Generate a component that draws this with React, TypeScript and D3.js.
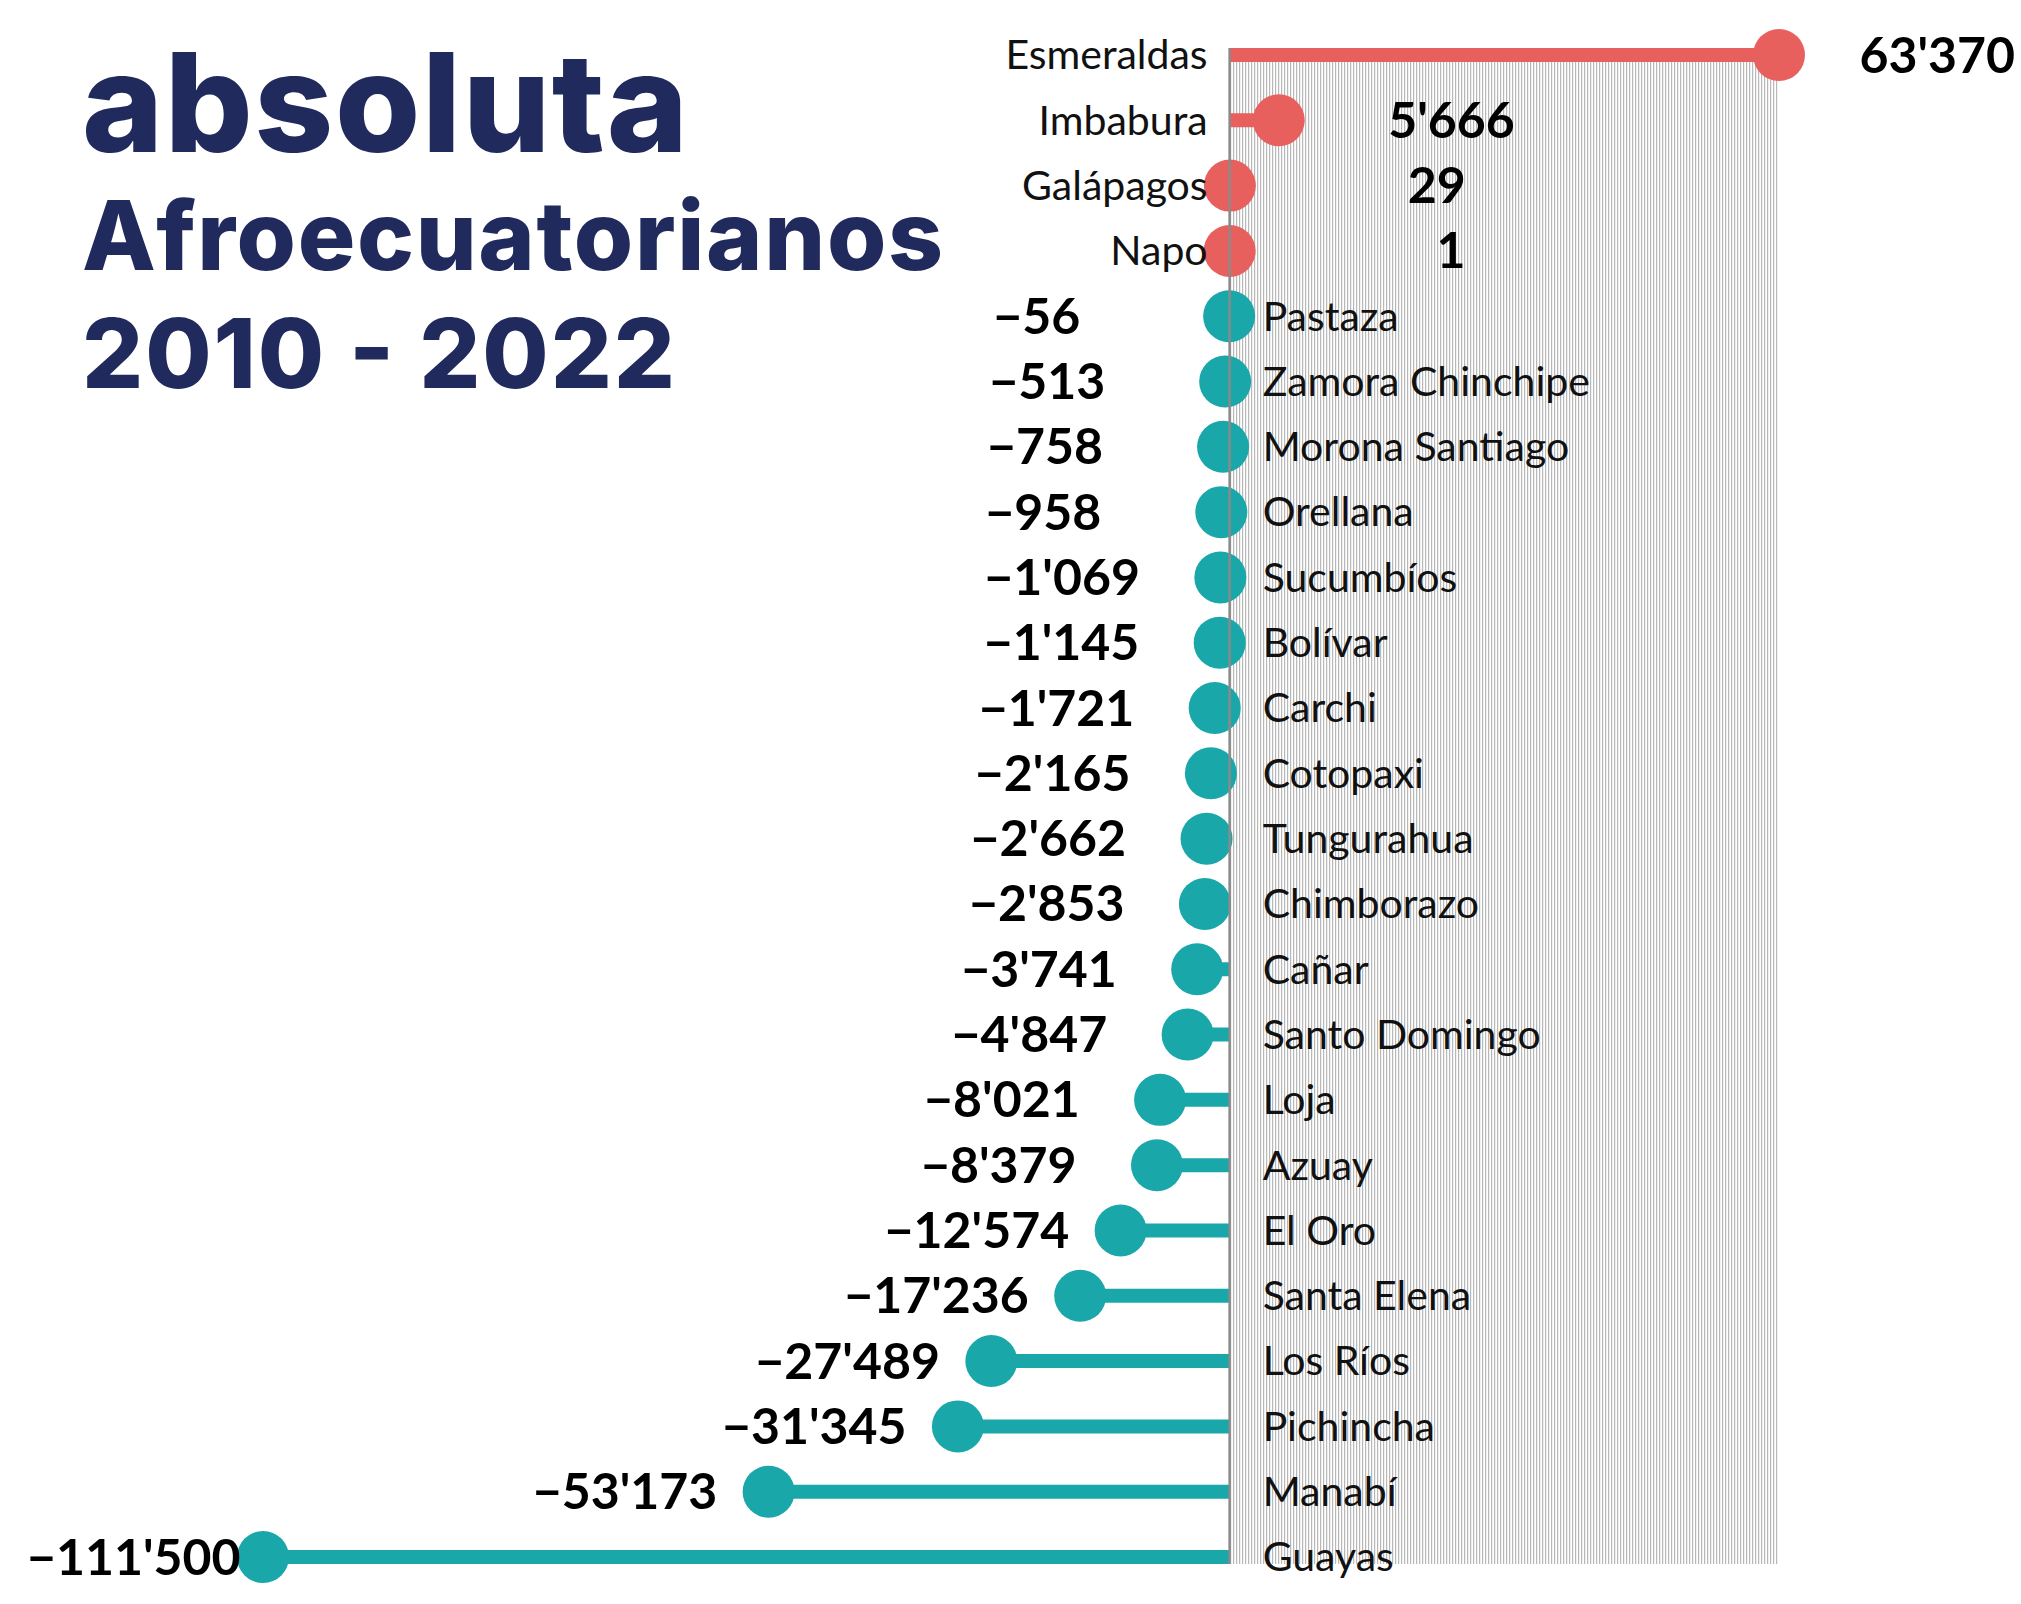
// @ts-nocheck
import React, { useRef, useEffect } from "react";
import * as d3 from "d3";

const PROVINCES = [
  "Esmeraldas", "Imbabura", "Galápagos", "Napo", "Pastaza", "Zamora Chinchipe",
  "Morona Santiago", "Orellana", "Sucumbíos", "Bolívar", "Carchi", "Cotopaxi",
  "Tungurahua", "Chimborazo", "Cañar", "Santo Domingo", "Loja", "Azuay",
  "El Oro", "Santa Elena", "Los Ríos", "Pichincha", "Manabí", "Guayas",
];

const CHANGE = [
  63370, 5666, 29, 1, -56, -513,
  -758, -958, -1069, -1145, -1721, -2165,
  -2662, -2853, -3741, -4847, -8021, -8379,
  -12574, -17236, -27489, -31345, -53173, -111500,
];

const TITLE_LINES = ["absoluta", "Afroecuatorianos", "2010 - 2022"];

const RED = "#e8605e";
const TEAL = "#19a7aa";
const NAVY = "#212a5c";

const LOLLIPOPS = PROVINCES.map((name, i) => ({ name, value: CHANGE[i] }));

const Lollipop = ({ width = 2021, height = 1604 }) => {
  const svgRef = useRef(null);

  useEffect(() => {
    document.body.style.margin = "0";
    const svg = d3.select(svgRef.current);
    svg.selectAll("*").remove();

    svg
      .attr("width", width)
      .attr("height", height)
      .attr("viewBox", [0, 0, width, height])
      .style("display", "block")
      .style("background", "#fff");

    const x = d3
      .scaleLinear()
      .domain([d3.min(CHANGE), d3.max(CHANGE)])
      .range([263, 1779]);

    const y = d3.scalePoint().domain(PROVINCES).range([55, 1557]);

    const fmt = (v) => d3.format(",")(v).replace(/,/g, "'");

    // hatch pattern for the positive side
    const defs = svg.append("defs");
    const pat = defs
      .append("pattern")
      .attr("id", "hatch")
      .attr("patternUnits", "userSpaceOnUse")
      .attr("width", 3)
      .attr("height", 10);
    pat.append("rect").attr("width", 3).attr("height", 10).attr("fill", "#fff");
    pat.append("rect").attr("width", 1.2).attr("height", 10).attr("fill", "#b8b8b8");

    const top = y(PROVINCES[0]) - 7;
    const bottom = y(PROVINCES[PROVINCES.length - 1]) + 7;

    svg
      .append("rect")
      .attr("x", x(0))
      .attr("y", top)
      .attr("width", x(d3.max(CHANGE)) - x(0))
      .attr("height", bottom - top)
      .attr("fill", "url(#hatch)");

    const color = (v) => (v >= 0 ? RED : TEAL);

    // stems
    svg
      .append("g")
      .selectAll("line")
      .data(LOLLIPOPS)
      .join("line")
      .attr("x1", x(0))
      .attr("x2", (d) => x(d.value))
      .attr("y1", (d) => y(d.name))
      .attr("y2", (d) => y(d.name))
      .attr("stroke", (d) => color(d.value))
      .attr("stroke-width", 14);

    // dots
    svg
      .append("g")
      .selectAll("circle")
      .data(LOLLIPOPS)
      .join("circle")
      .attr("cx", (d) => x(d.value))
      .attr("cy", (d) => y(d.name))
      .attr("r", 26)
      .attr("fill", (d) => color(d.value));

    // zero line
    svg
      .append("line")
      .attr("x1", x(0))
      .attr("x2", x(0))
      .attr("y1", top)
      .attr("y2", bottom)
      .attr("stroke", "#8a8a8a")
      .attr("stroke-width", 2.5);

    // province names
    svg
      .append("g")
      .attr("font-family", "Lato, 'Noto Sans', sans-serif")
      .attr("font-size", 41)
      .attr("fill", "#111")
      .selectAll("text")
      .data(LOLLIPOPS)
      .join("text")
      .attr("x", (d) => (d.value >= 0 ? x(0) - 22 : x(0) + 33))
      .attr("y", (d) => y(d.name))
      .attr("dy", "0.35em")
      .attr("text-anchor", (d) => (d.value >= 0 ? "end" : "start"))
      .text((d) => d.name);

    // values
    svg
      .append("g")
      .attr("font-family", "Lato, 'Noto Sans', sans-serif")
      .attr("font-size", 50)
      .attr("font-weight", 700)
      .attr("fill", "#000")
      .selectAll("text")
      .data(LOLLIPOPS)
      .join("text")
      .attr("x", (d) => (d.value >= 0 ? x(d.value) + 236 : x(d.value) - 236))
      .attr("y", (d) => y(d.name))
      .attr("dy", "0.35em")
      .attr("text-anchor", (d) => (d.value >= 0 ? "end" : "start"))
      .text((d) => fmt(d.value));

    // title
    const title = svg
      .append("g")
      .attr("font-family", "Inter, 'Open Sans', sans-serif")
      .attr("font-weight", 800)
      .attr("fill", NAVY);
    const titleSpec = [
      { size: 138, base: 152, len: 606 },
      { size: 96, base: 270, len: 861 },
      { size: 96, base: 388, len: 593 },
    ];
    TITLE_LINES.forEach((t, i) => {
      title
        .append("text")
        .attr("x", 82)
        .attr("y", titleSpec[i].base)
        .attr("font-size", titleSpec[i].size)
        .attr("textLength", titleSpec[i].len)
        .attr("lengthAdjust", "spacing")
        .text(t);
    });
  }, [width, height]);

  return <svg ref={svgRef}></svg>;
};

export default function App() {
  return <Lollipop />;
}
